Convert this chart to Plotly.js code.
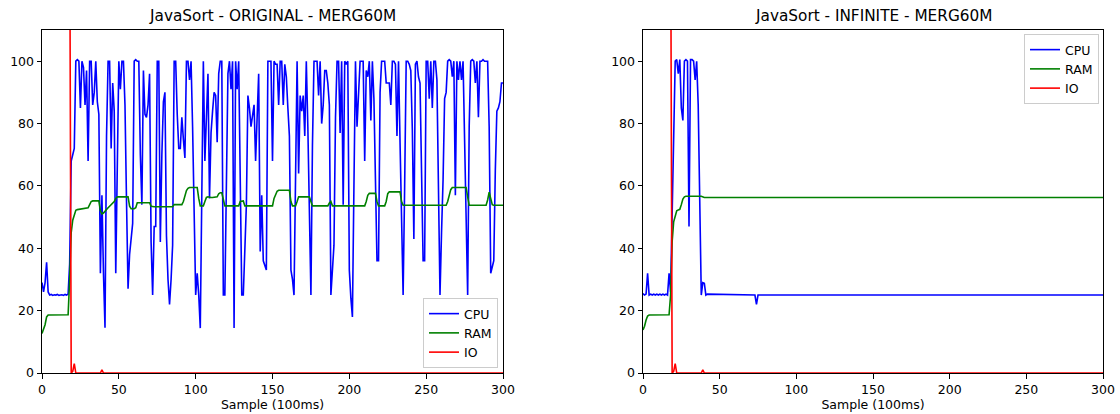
<!DOCTYPE html>
<html>
<head>
<meta charset="utf-8">
<script src="https://cdn.plot.ly/plotly-3.0.1.min.js"></script>
<style>html,body{margin:0;padding:0;background:#fff;}#chart{width:1120px;height:414px;}</style>
</head>
<body>
<div id="chart"></div>
<script>
// ---- Data ----
const titles = ["JavaSort - ORIGINAL - MERG60M", "JavaSort - INFINITE - MERG60M"];
const seriesNames = ["CPU", "RAM", "IO"];
const xTitle = "Sample (100ms)";
const yTicks = [0, 20, 40, 60, 80, 100];
const xTicks = [0, 50, 100, 150, 200, 250, 300];

// Left chart (ORIGINAL), one value per sample 0..300
const origCpu = [
 29, 26, 29, 35.5, 26, 25, 25.2, 24.9, 25.1, 25,
 25.2, 24.9, 25, 25.1, 24.9, 25.2, 25, 25.3, 35, 68,
 70, 72, 100, 100.5, 100, 85, 100, 98, 86, 97,
 68, 100, 100, 86, 90, 100, 87, 83, 32, 57,
 32, 14.5, 76, 100, 100, 72, 93, 84, 32, 60,
 100, 91, 100, 100, 86, 55, 27, 38, 43, 48,
 100, 100.5, 100, 100, 70, 54, 97, 83, 82, 86,
 96, 42, 25, 47, 47, 100, 100, 42, 70, 87,
 90, 44, 30, 22, 30, 41, 100, 100, 83, 72,
 72, 82, 75, 69, 100, 100, 94, 100, 79, 50,
 25, 32, 25, 14.4, 57, 100, 68, 84, 96, 56,
 77, 84, 90, 89, 74, 96, 100, 100, 25, 25,
 57, 96, 100, 91, 100, 14.4, 100, 91, 100, 62,
 25, 25, 40, 54, 89, 85, 79, 82, 86, 68,
 86, 96, 39, 57, 36, 34, 33, 100, 100, 100,
 68, 100, 99, 99, 86, 100, 100, 86, 99, 95,
 85, 76, 33, 30, 25, 60, 100, 64, 89, 84,
 89, 76, 100, 79, 57, 25, 73, 100, 100, 100,
 89, 100, 80, 86, 97, 97, 93, 86, 25, 35,
 41, 82, 100, 100, 77, 100, 54, 100, 99, 100,
 33, 24, 18, 60, 100, 79, 90, 100, 100, 100,
 68, 97, 95, 100, 81, 100, 88, 60, 36, 36,
 90, 100, 100, 100, 93, 93, 93, 86, 100, 100,
 99, 76, 100, 74, 45, 25, 60, 100, 100, 99,
 97, 78, 43, 99, 100, 95, 93, 65, 36, 36,
 100, 100, 88, 100, 85, 100, 100, 94, 57, 25,
 45, 62, 88, 90, 100, 100.5, 100, 95, 100, 57,
 100, 94, 100, 94, 100, 77, 50, 25, 79, 100,
 100.5, 100, 93, 100, 82, 100, 100, 100.5, 100, 100,
 100, 79, 32, 34, 36, 65, 84, 85, 87, 93,
 93
];
const origRam = [
 12.7, 14, 15.5, 18, 18.6, 18.6, 18.6, 18.6, 18.6, 18.6,
 18.6, 18.6, 18.6, 18.6, 18.6, 18.6, 18.6, 18.7, 30, 45,
 49, 51, 52.2, 52.4, 52.5, 52.5, 52.6, 52.7, 52.8, 53,
 53, 54, 55, 55.2, 55.2, 55.2, 55.2, 55.2, 52, 51,
 51.3, 52, 52.5, 53, 53.5, 54, 54.5, 55, 56, 56.5,
 56.5, 56.5, 56.5, 56.5, 56.5, 56.5, 56.5, 53.5, 52.7, 52.7,
 52.7, 53, 54.6, 54.6, 54.6, 54.6, 54.6, 54.6, 54.6, 54.6,
 54.6, 53.5, 53.3, 53.3, 53.3, 53.3, 53.3, 53.3, 53.3, 53.3,
 53.3, 53.3, 53.3, 53.3, 53.3, 53.3, 54, 54, 54, 54,
 54, 54, 55, 57, 58.5, 59.2, 59.5, 59.5, 59.5, 59.5,
 59.5, 59.5, 56, 53.6, 53.6, 53.6, 55, 56.3, 56.5, 56.3,
 56.3, 56.3, 56.3, 56.3, 56.5, 57.5, 57.8, 57.8, 55, 53.6,
 53.6, 53.6, 53.6, 53.6, 53.6, 53.6, 53.6, 53.6, 53.6, 55,
 55.2, 55.2, 53.6, 53.6, 53.6, 53.6, 53.6, 53.6, 53.6, 53.6,
 53.6, 53.6, 53.6, 53.6, 53.6, 53.6, 53.6, 53.6, 53.6, 53.6,
 53.6, 56, 57.5, 58.3, 58.6, 58.6, 58.6, 58.6, 58.6, 58.6,
 58.6, 58.6, 55, 53.6, 53.6, 53.6, 55, 56.5, 56.5, 56.5,
 56.5, 56.5, 56.5, 56.5, 56.5, 55, 53.6, 53.6, 53.6, 53.6,
 53.6, 53.6, 53.6, 53.6, 53.6, 53.6, 53.6, 54.5, 55, 53.6,
 53.6, 53.6, 53.6, 53.6, 53.6, 53.6, 53.6, 53.6, 53.6, 53.6,
 53.6, 53.6, 53.6, 53.6, 53.6, 53.6, 53.6, 53.6, 53.6, 53.6,
 53.6, 55, 57, 57.6, 57.6, 57.6, 57.6, 57.6, 55, 53.6,
 53.6, 53.6, 53.6, 53.6, 55, 57.5, 58.1, 58.1, 58.1, 58.1,
 58.1, 58.1, 58.1, 58.1, 55, 53.8, 53.8, 53.8, 53.8, 53.8,
 53.8, 53.8, 53.8, 53.8, 53.8, 53.8, 53.8, 53.8, 53.8, 53.8,
 53.8, 53.8, 53.8, 53.8, 53.8, 53.8, 53.8, 53.8, 53.8, 53.8,
 53.8, 53.8, 53.8, 53.8, 55, 57.5, 58.8, 59.5, 59.5, 59.5,
 59.5, 59.5, 59.5, 59.5, 59.5, 59.5, 59.5, 56.5, 53.8, 53.8,
 53.8, 53.8, 53.8, 53.8, 53.8, 53.8, 53.8, 53.8, 53.8, 53.8,
 55.5, 58, 56, 54, 53.8, 53.8, 53.8, 53.8, 53.8, 53.8,
 53.8
];
const ioX = [18, 19, 20, 21, 22, 38, 39, 40, 300];
const origIo = [150, 0, 0.5, 3, 0, 0, 1, 0, 0];

// Right chart (INFINITE)
const infCpuX = [0,1,2,3,4,5,6,7,8,9,10,11,12,13,14,15,16,17,18,19,20,21,22,23,24,25,26,27,28,29,30,31,32,33,34,35,36,37,38,39,40,41,42,73,74,75,300];
const infCpu = [25.5,25,25.3,32,25,25.3,25,25.3,25,25.3,25,25.3,25,25.3,25,25.3,25,32,26,50,78,100,100.5,96,100.5,85,81,100,100.5,100,47,100.5,100.5,100,94,100,86,55,25,29,28.8,25,25.3,25,22,25,25];
const infRamX = [0,1,2,3,4,17,18,19,20,21,22,23,24,25,26,27,28,38,39,40,300];
const infRam = [13.8,15,17,18.3,18.6,18.7,25,42,48.5,50,52,52.3,52.5,54,55.8,56.5,56.7,56.7,56.5,56.3,56.3];
const infIo = [150, 0, 0.5, 3, 0, 0, 1, 0, 0];

// ---- Drawing ----
const sampleX = origCpu.map((_, i) => i);
const colors = {CPU: "#0000ff", RAM: "#008000", IO: "#ff0000"};
const lw = 1.6;
function tr(x, y, name, xa, ya, lg) {
  return {x: x, y: y, name: name, type: "scatter", mode: "lines",
          line: {color: colors[name], width: lw}, xaxis: xa, yaxis: ya,
          legend: lg, hoverinfo: "skip"};
}
const traces = [
  tr(sampleX, origCpu, seriesNames[0], "x", "y", "legend"),
  tr(sampleX, origRam, seriesNames[1], "x", "y", "legend"),
  tr(ioX, origIo, seriesNames[2], "x", "y", "legend"),
  tr(infCpuX, infCpu, seriesNames[0], "x2", "y2", "legend2"),
  tr(infRamX, infRam, seriesNames[1], "x2", "y2", "legend2"),
  tr(ioX, infIo, seriesNames[2], "x2", "y2", "legend2")
];

const FAM = "DejaVu Sans, sans-serif";
const font = {family: FAM, size: 12.5, color: "#000"};
function xax(domain, anchor) {
  return {domain: domain, anchor: anchor, range: [0, 300], tickvals: xTicks,
    showline: true, linecolor: "#000", linewidth: 1, mirror: true, layer: "below traces",
    ticks: "outside", ticklen: 4.5, tickcolor: "#000", tickwidth: 1,
    showgrid: false, zeroline: false, tickfont: font,
    title: {text: xTitle, font: font, standoff: 3}};
}
function yax(anchor) {
  return {domain: [0.099, 0.9275], anchor: anchor, range: [0, 110], tickvals: yTicks,
    showline: true, linecolor: "#000", linewidth: 1, mirror: true,
    ticks: "outside", ticklen: 4.5, tickcolor: "#000", tickwidth: 1,
    showgrid: false, zeroline: false, tickfont: font};
}
const d1 = [42/1120, 503/1120], d2 = [643/1120, 1103/1120];
const legendStyle = {bgcolor: "rgba(255,255,255,0.8)", bordercolor: "#cccccc", borderwidth: 1,
  font: {family: FAM, size: 12.5, color: "#000"}, tracegroupgap: 0, itemwidth: 30};
const layout = {
  width: 1120, height: 414, margin: {l: 0, r: 0, t: 0, b: 0},
  paper_bgcolor: "#fff", plot_bgcolor: "#fff", font: font,
  xaxis: xax(d1, "y"), yaxis: yax("x"),
  xaxis2: xax(d2, "y2"), yaxis2: yax("x2"),
  legend: Object.assign({x: 498/1120, y: 1 - 368/414, xanchor: "right", yanchor: "bottom"}, legendStyle),
  legend2: Object.assign({x: 1099/1120, y: 1 - 34/414, xanchor: "right", yanchor: "top"}, legendStyle),
  annotations: [
    {text: titles[0], x: (d1[0]+d1[1])/2, y: 1 - 16/414, xref: "paper", yref: "paper",
     xanchor: "center", yanchor: "middle", showarrow: false,
     font: {family: FAM, size: 15.3, color: "#000"}},
    {text: titles[1], x: (d2[0]+d2[1])/2, y: 1 - 16/414, xref: "paper", yref: "paper",
     xanchor: "center", yanchor: "middle", showarrow: false,
     font: {family: FAM, size: 15.3, color: "#000"}}
  ]
};
Plotly.newPlot("chart", traces, layout, {staticPlot: true, displayModeBar: false});
</script>
</body>
</html>
